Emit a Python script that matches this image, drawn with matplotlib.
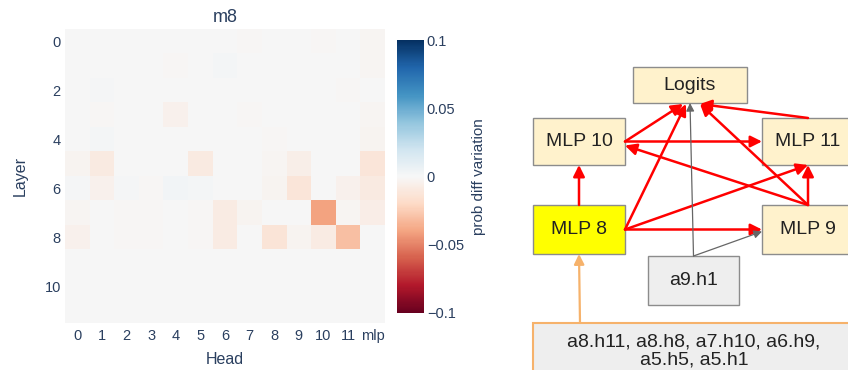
import numpy as np
import matplotlib
matplotlib.use('Agg')
import matplotlib.pyplot as plt
from matplotlib.patches import Rectangle

plt.rcParams['font.family'] = ['Liberation Sans', 'DejaVu Sans']
TXT = '#2a3f5f'

# ---------------- heatmap data ----------------
heads = ['0', '1', '2', '3', '4', '5', '6', '7', '8', '9', '10', '11', 'mlp']
layers = list(range(12))
prob_diff = np.array([
    # 0      1      2      3      4      5      6      7      8      9      10     11     mlp
    [0.0005, 0.000, 0.000, 0.000, 0.000, 0.000, 0.000,-0.001, 0.000, 0.000,-0.001, 0.000,-0.002],
    [0.000, 0.000, 0.000, 0.000,-0.001, 0.000, 0.002, 0.000, 0.000, 0.000, 0.000, 0.000,-0.002],
    [0.000, 0.001, 0.000, 0.000, 0.000, 0.000, 0.000, 0.000, 0.000, 0.000, 0.000,-0.001, 0.000],
    [0.000,-0.001, 0.000, 0.000,-0.004, 0.000, 0.000,-0.001, 0.000, 0.000, 0.000, 0.000,-0.002],
    [0.000, 0.002, 0.000, 0.000, 0.000, 0.000, 0.000, 0.000,-0.001, 0.000, 0.000, 0.000,-0.003],
    [-0.003,-0.009, 0.000, 0.000, 0.000,-0.009, 0.000, 0.000,-0.002,-0.006, 0.000, 0.000,-0.012],
    [0.001,-0.004, 0.001,-0.001, 0.003, 0.002, 0.000, 0.000,-0.003,-0.012, 0.000,-0.004,-0.009],
    [-0.002, 0.000,-0.001,-0.001, 0.000,-0.001,-0.008,-0.003, 0.000, 0.000,-0.040,-0.002,-0.007],
    [-0.004, 0.000,-0.001,-0.001, 0.000,-0.001,-0.008, 0.000,-0.013,-0.003,-0.008,-0.030, 0.000],
    [0.000] * 13,
    [0.000] * 13,
    [0.000] * 13,
])

# ---------------- diagram data ----------------
node_labels = {
    'logits': 'Logits',
    'mlp10': 'MLP 10',
    'mlp11': 'MLP 11',
    'mlp8': 'MLP 8',
    'mlp9': 'MLP 9',
    'a9h1': 'a9.h1',
    'heads': 'a8.h11, a8.h8, a7.h10, a6.h9,\na5.h5, a5.h1',
}
# (source, source anchor, target, target anchor, kind)
edges = [
    ('mlp8', 'top', 'mlp10', 'bottom', 'main'),
    ('mlp10', 'right', 'logits', 'bottom_l', 'main'),
    ('mlp8', 'right', 'logits', 'bottom_l2', 'main'),
    ('mlp9', 'top', 'logits', 'bottom_r', 'main'),
    ('mlp11', 'top', 'logits', 'bottom_r', 'main'),
    ('mlp10', 'right', 'mlp11', 'left', 'main'),
    ('mlp9', 'top', 'mlp10', 'right_low', 'main'),
    ('mlp8', 'right', 'mlp11', 'bottom', 'main'),
    ('mlp9', 'top', 'mlp11', 'bottom', 'main'),
    ('mlp8', 'right', 'mlp9', 'left', 'main'),
    ('a9h1', 'top', 'logits', 'bottom', 'minor'),
    ('a9h1', 'top', 'mlp9', 'left_low', 'minor'),
    ('heads', 'top_l', 'mlp8', 'bottom', 'input'),
]

# ---------------- layout / styling ----------------
W, H = 848, 370
fig = plt.figure(figsize=(W / 100, H / 100), dpi=100)

ax = fig.add_axes([65 / W, 1 - 323 / H, 320 / W, 294 / H])
im = ax.imshow(prob_diff, cmap='RdBu', vmin=-0.1, vmax=0.1, aspect='auto',
               interpolation='nearest')
ax.set_xticks(range(len(heads)))
ax.set_xticklabels(heads)
ax.set_yticks(layers[::2])
ax.tick_params(length=0, labelsize=10.5, colors=TXT)
ax.tick_params(axis='x', pad=4)
ax.tick_params(axis='y', pad=3)
for s in ax.spines.values():
    s.set_visible(False)
ax.set_title('m8', fontsize=13, color=TXT, pad=5)
ax.set_xlabel('Head', fontsize=11.5, color=TXT, labelpad=7)
ax.set_ylabel('Layer', fontsize=11.5, color=TXT, labelpad=12)

cax = fig.add_axes([397 / W, 1 - 313 / H, 27 / W, 273 / H])
cb = fig.colorbar(im, cax=cax)
cb.outline.set_visible(False)
cb.set_ticks([-0.1, -0.05, 0, 0.05, 0.1])
cb.set_ticklabels(['\u22120.1', '\u22120.05', '0', '0.05', '0.1'])
cax.tick_params(length=0, labelsize=10.5, colors=TXT, pad=2)
cb.set_label('prob diff variation', fontsize=11, color=TXT, labelpad=6)

# diagram in pixel coordinates
dax = fig.add_axes([500 / W, 0, 348 / W, 1])
dax.set_xlim(500, 848)
dax.set_ylim(370, 0)
dax.axis('off')

boxes = {
    'logits': (633, 67, 114, 36),
    'mlp10': (533, 118, 92, 47),
    'mlp11': (762, 118, 92, 47),
    'mlp8': (533, 205, 92, 49),
    'mlp9': (762, 205, 92, 49),
    'a9h1': (648, 256, 91, 49),
    'heads': (533, 323, 330, 60),
}
fills = {'mlp8': '#ffff00', 'a9h1': '#eeeeee', 'heads': '#eeeeee'}
edgecols = {'heads': '#f6b26b'}
font_sz = {'heads': 14}


def anchor(name, side):
    x, y, w, h = boxes[name]
    cx = x + w / 2
    pts = {
        'top': (cx, y), 'bottom': (cx, y + h),
        'left': (x, y + h / 2), 'right': (x + w, y + h / 2),
        'bottom_l': (cx - 7, y + h + 1), 'bottom_l2': (cx - 4, y + h + 1),
        'bottom_r': (cx + 10, y + h + 1),
        'right_low': (x + w, y + h / 2 + 4), 'left_low': (x, y + h / 2 + 2),
        'top_l': (580, y),
    }
    return pts[side]


for name, (x, y, w, h) in boxes.items():
    dax.add_patch(Rectangle((x, y), w, h, facecolor=fills.get(name, '#fff2cc'),
                            edgecolor=edgecols.get(name, '#8c8c8c'),
                            lw=1.5 if name == 'heads' else 1.0, clip_on=False))
    ty = y + h / 2 if name != 'heads' else y + 28
    dax.text(x + w / 2 if name != 'heads' else 694, ty, node_labels[name],
             ha='center', va='center', fontsize=font_sz.get(name, 14),
             color='#222222', linespacing=1.1)

styles = {
    'main': dict(color='#ff0000', lw=1.8, mutation_scale=17),
    'minor': dict(color='#666666', lw=0.9, mutation_scale=12),
    'input': dict(color='#f6b26b', lw=1.6, mutation_scale=15),
}
for src, sa, dst, da, kind in edges:
    st = styles[kind]
    dax.annotate('', xy=anchor(dst, da), xytext=anchor(src, sa),
                 arrowprops=dict(arrowstyle='-|>', color=st['color'], lw=st['lw'],
                                 mutation_scale=st['mutation_scale'],
                                 shrinkA=0, shrinkB=0))

fig.savefig('out.png', dpi=100)
